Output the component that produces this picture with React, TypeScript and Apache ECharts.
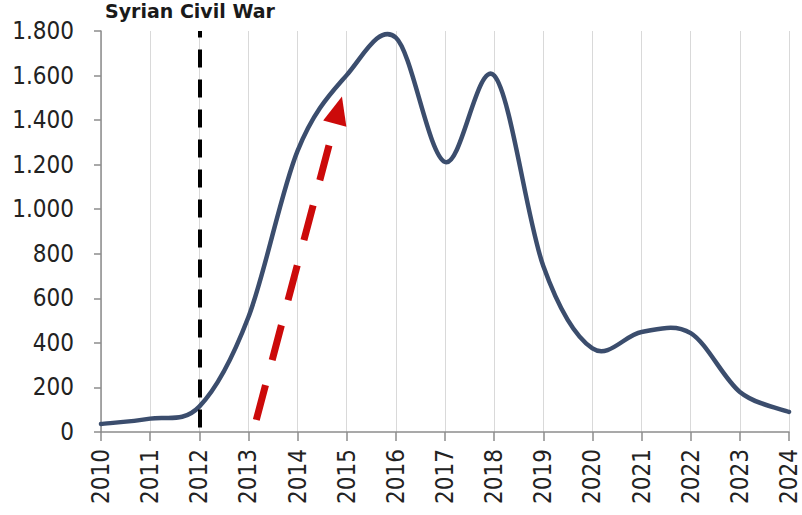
import React, { useEffect, useRef } from "react";
import * as echarts from "echarts";

const years = [2010, 2011, 2012, 2013, 2014, 2015, 2016, 2017, 2018, 2019, 2020, 2021, 2022, 2023, 2024];
const values = [36, 60, 114, 516, 1262, 1602, 1770, 1212, 1600, 745, 375, 449, 444, 180, 90];
const yTicks = [0, 200, 400, 600, 800, 1000, 1200, 1400, 1600, 1800];
const civilWarYear = 2012;
const civilWarLabel = "Syrian Civil War";
const arrowStart = [2013.16, 54];
const arrowEnd = [2014.83, 1445];

const fmtThousands = (v: number) => String(v).replace(/\B(?=(\d{3})+(?!\d))/g, ".");

export default function App() {
  const ref = useRef<HTMLDivElement>(null);
  useEffect(() => {
    document.body.style.margin = "0";
    document.body.style.overflow = "hidden";
    const chart = echarts.init(ref.current!, null, { renderer: "svg", width: 802, height: 515 });
    const font = "DejaVu Sans Condensed, DejaVu Sans, sans-serif";
    const seriesData = years.map((y, i) => [y, values[i]]);
    chart.setOption({
      animation: false,
      backgroundColor: "#ffffff",
      grid: { left: 101, right: 13, top: 31, bottom: 83, containLabel: false, outerBoundsMode: "none" },
      xAxis: {
        type: "value",
        min: 2010,
        max: 2024,
        interval: 1,
        axisLine: { show: true, onZero: false, lineStyle: { color: "#8c8c8c", width: 1.5 } },
        axisTick: { show: true, length: 9, lineStyle: { color: "#8c8c8c", width: 1.5 } },
        splitLine: { show: true, lineStyle: { color: "#d9d9d9", width: 1 } },
        axisLabel: {
          rotate: 90,
          margin: 17,
          fontSize: 24,
          fontFamily: font,
          color: "#222",
          formatter: (v: number) => String(v),
        },
      },
      yAxis: {
        type: "value",
        min: yTicks[0],
        max: yTicks[yTicks.length - 1],
        interval: 200,
        axisLine: { show: true, lineStyle: { color: "#8c8c8c", width: 1.5 } },
        axisTick: { show: true, length: 7, lineStyle: { color: "#8c8c8c", width: 1.5 } },
        splitLine: { show: false },
        axisLabel: {
          margin: 27,
          fontSize: 24,
          fontFamily: font,
          color: "#222",
          formatter: (v: number) => fmtThousands(v),
        },
      },
      graphic: [
        {
          type: "text",
          left: 105,
          top: 1,
          style: {
            text: civilWarLabel,
            fontSize: 19,
            fontWeight: "bold",
            fontFamily: "DejaVu Sans, sans-serif",
            fill: "#1a1a1a",
          },
        },
      ],
      series: [
        {
          type: "custom",
          data: seriesData,
          encode: { x: 0, y: 1 },
          z: 3,
          renderItem: (params: any, api: any) => {
            if (params.dataIndex !== 0) return null;
            const pts = seriesData.map((d) => api.coord(d));
            const n = pts.length;
            let d = `M${pts[0][0]},${pts[0][1]}`;
            for (let i = 0; i < n - 1; i++) {
              const p0 = pts[Math.max(0, i - 1)];
              const p1 = pts[i];
              const p2 = pts[i + 1];
              const p3 = pts[Math.min(n - 1, i + 2)];
              const c1x = p1[0] + (p2[0] - p0[0]) / 6;
              const c1y = p1[1] + (p2[1] - p0[1]) / 6;
              const c2x = p2[0] - (p3[0] - p1[0]) / 6;
              const c2y = p2[1] - (p3[1] - p1[1]) / 6;
              d += ` C${c1x},${c1y} ${c2x},${c2y} ${p2[0]},${p2[1]}`;
            }
            return {
              type: "path",
              shape: { pathData: d },
              style: { stroke: "#3b4d6d", lineWidth: 4.5, fill: "none", lineCap: "round", lineJoin: "round" },
            };
          },
        },
        {
          type: "line",
          data: [],
          silent: true,
          markLine: {
            silent: true,
            animation: false,
            label: { show: false },
            data: [
              [
                {
                  coord: arrowStart,
                  symbol: "none",
                  lineStyle: { color: "#cc0a0a", width: 7, type: [36, 26] },
                },
                {
                  coord: arrowEnd,
                  symbol: "triangle",
                  symbolSize: [24, 28],
                  itemStyle: { color: "#cc0a0a" },
                },
              ],
              [
                {
                  xAxis: civilWarYear,
                  yAxis: yTicks[0] + 20,
                  symbol: "none",
                  lineStyle: { color: "#000", width: 4, type: [18, 12] },
                },
                { xAxis: civilWarYear, yAxis: yTicks[yTicks.length - 1], symbol: "none" },
              ],
            ],
          },
        },
      ],
    });
    return () => chart.dispose();
  }, []);
  return <div ref={ref} style={{ width: 802, height: 515 }} />;
}
